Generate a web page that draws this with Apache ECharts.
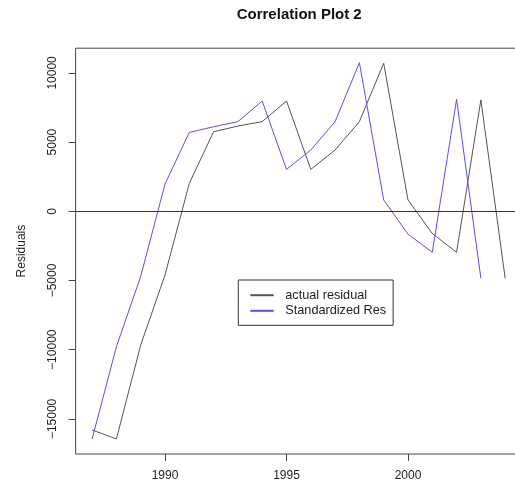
<!DOCTYPE html>
<html>
<head>
<meta charset="utf-8">
<script src="https://cdn.jsdelivr.net/npm/echarts@6/dist/echarts.min.js"></script>
<style>html,body{margin:0;padding:0;background:#fff}#c{width:515px;height:487px}</style>
</head>
<body>
<div id="c"></div>
<script>
var years = [1987,1988,1989,1990,1991,1992,1993,1994,1995,1996,1997,1998,1999,2000,2001,2002,2003,2004];
var actualResidual = [-15800,-16450,-9660,-4600,2020,5750,6160,6480,7970,3030,4430,6480,10700,820,-1600,-2960,8050,-4840];
var stdYears = [1987,1988,1989,1990,1991,1992,1993,1994,1995,1996,1997,1998,1999,2000,2001,2002,2003];
var standardizedRes = [-16450,-9780,-4700,1970,5700,6110,6480,7970,3030,4430,6480,10740,820,-1650,-2960,8090,-4840];
var xTicks = [1990,1995,2000];
var yTicks = [-15000,-10000,-5000,0,5000,10000];
var seriesNames = ['actual residual','Standardized Res'];

var FONT = 'Liberation Sans, Arial, Helvetica, sans-serif';
function pairs(xs, ys){ return xs.map(function(x,i){ return [x, ys[i]]; }); }
function fmt(v){ return (v < 0 ? '\u2212' : '') + String(Math.abs(v)); }

var chart = echarts.init(document.getElementById('c'), null, {renderer:'canvas'});
chart.setOption({
  animation:false,
  backgroundColor:'#fff',
  title:{
    text:'Correlation Plot 2', left:236.7, top:7.5, padding:0,
    textStyle:{fontFamily:FONT, fontWeight:'bold', fontSize:15, color:'#111'}
  },
  grid:{left:75.6, top:48.2, bottom:33, right:-6.7, show:true, borderColor:'#444', borderWidth:1,
        containLabel:false, outerBoundsMode:'none'},
  legend:{
    orient:'vertical', left:238.3, top:280,
    padding:[8.7,7,8,11], itemGap:2.6, itemWidth:23.4, itemHeight:14,
    borderColor:'#333', borderWidth:1, backgroundColor:'#fff',
    itemStyle:{color:'rgba(0,0,0,0)', borderColor:'rgba(0,0,0,0)', borderWidth:0, opacity:0},
    textStyle:{fontFamily:FONT, fontSize:12.7, color:'#222', padding:[0,0,0,6.6]},
    data:seriesNames
  },
  xAxis:{
    type:'value', min:1986.32, max:2004.68,
    axisLine:{show:false, onZero:false}, splitLine:{show:false},
    axisTick:{show:true, length:7, inside:false, customValues:xTicks, lineStyle:{color:'#444'}},
    axisLabel:{customValues:xTicks, margin:16, fontFamily:FONT, fontSize:12, color:'#222', formatter:function(v){return String(v);}}
  },
  yAxis:{
    type:'value', min:-17536, max:11786,
    name:'Residuals', nameLocation:'middle', nameRotate:90, nameGap:48,
    nameTextStyle:{fontFamily:FONT, fontSize:12, color:'#222'},
    axisLine:{show:false, onZero:false}, splitLine:{show:false},
    axisTick:{show:true, length:7, inside:false, customValues:yTicks, lineStyle:{color:'#444'}},
    axisLabel:{customValues:yTicks, rotate:90, margin:17, fontFamily:FONT, fontSize:12, color:'#222', formatter:fmt}
  },
  series:[
    {name:seriesNames[0], type:'line', data:pairs(years, actualResidual), symbol:'none', showSymbol:false,
     lineStyle:{color:'#555', width:1}, itemStyle:{color:'#555'},
     markLine:{silent:true, symbol:['none','none'], label:{show:false},
               lineStyle:{color:'#333', width:1, type:'solid'}, data:[{yAxis:0}]}},
    {name:seriesNames[1], type:'line', data:pairs(stdYears, standardizedRes), symbol:'none', showSymbol:false,
     lineStyle:{color:'#5050ff', width:1}, itemStyle:{color:'#5050ff'}}
  ]
});
</script>
</body>
</html>
